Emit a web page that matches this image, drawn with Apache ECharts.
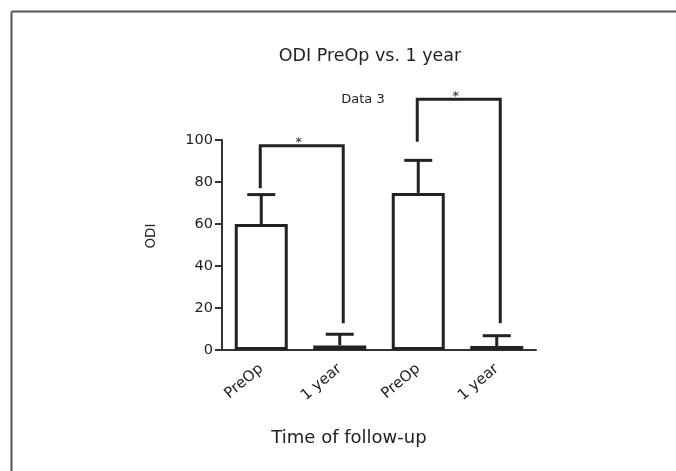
<!DOCTYPE html>
<html>
<head>
<meta charset="utf-8">
<script src="https://cdn.jsdelivr.net/npm/echarts@6/dist/echarts.min.js"></script>
<style>
html,body{margin:0;padding:0;background:#fff;}
#chart{width:676px;height:471px;}
</style>
</head>
<body>
<div id="chart"></div>
<script>
// ---- data ----
const categories = ['PreOp', '1 year', 'PreOp', '1 year'];
const means = [60, 2.2, 74.8, 1.9];
const sdUpper = [14, 5.3, 15.5, 4.9];
// bracket: [fromCategory, toCategory, leftLegBottom, barTop, rightLegBottom]
const bracket1 = [0, 1, 77, 97.3, 12.7];
const bracket2 = [2, 3, 99.2, 119.4, 12.7];
const sigLabels = ['*', '*'];
const yTicks = [0, 20, 40, 60, 80, 100];
const titleText = 'ODI PreOp vs. 1 year';
const dataSetLabel = 'Data 3';
const xName = 'Time of follow-up';
const yName = 'ODI';

const FONT = 'DejaVu Sans';
const INK = '#222';

const errorData = means.map((m, i) => [i, m, m + sdUpper[i]]);
const bracketData = [bracket1.concat([0]), bracket2.concat([1])];

const chart = echarts.init(document.getElementById('chart'), null, {renderer: 'canvas'});

chart.setOption({
  backgroundColor: '#fff',
  animation: false,
  title: {
    text: titleText,
    left: 365, textAlign: 'center',
    top: 42,
    textStyle: {fontFamily: FONT, fontSize: 17.5, fontWeight: 'normal', color: INK}
  },
  grid: {left: 222, right: 140, top: 140, bottom: 121, containLabel: false},
  xAxis: {
    type: 'category',
    data: categories,
    boundaryGap: true,
    name: xName,
    nameLocation: 'middle',
    nameGap: 79,
    nameTextStyle: {fontFamily: FONT, fontSize: 18, color: INK, padding: [0, 60, 0, 0]},
    axisLine: {lineStyle: {color: '#333', width: 2}},
    axisTick: {alignWithLabel: true, length: 6, lineStyle: {color: '#333', width: 2}},
    axisLabel: {rotate: 40, fontFamily: FONT, fontSize: 15, color: INK, margin: 17, padding: [22, 0, 0, 0]},
    splitLine: {show: false}
  },
  yAxis: {
    type: 'value',
    min: yTicks[0], max: yTicks[yTicks.length - 1], interval: 20,
    name: yName,
    nameLocation: 'middle',
    nameGap: 64,
    nameTextStyle: {fontFamily: FONT, fontSize: 13.5, color: INK, padding: [0, 0, 0, 18]},
    axisLine: {show: true, lineStyle: {color: '#333', width: 2}},
    axisTick: {show: true, length: 7, lineStyle: {color: '#333', width: 2}},
    axisLabel: {fontFamily: FONT, fontSize: 14.5, color: INK, margin: 9},
    splitLine: {show: false}
  },
  series: [
    {
      type: 'bar',
      data: means,
      barWidth: 53,
      itemStyle: {color: '#fff', borderColor: INK, borderWidth: 3},
      z: 2
    },
    {
      type: 'custom',
      data: errorData,
      encode: {x: 0, y: [1, 2]},
      z: 3,
      clip: false,
      renderItem: function (params, api) {
        const c = api.coord([api.value(0), api.value(1)]);
        const t = api.coord([api.value(0), api.value(2)]);
        const half = 14;
        return {
          type: 'group',
          children: [
            {type: 'line', shape: {x1: c[0], y1: c[1], x2: t[0], y2: t[1]}, style: {stroke: INK, lineWidth: 3}},
            {type: 'line', shape: {x1: t[0] - half, y1: t[1], x2: t[0] + half, y2: t[1]}, style: {stroke: INK, lineWidth: 3}}
          ]
        };
      }
    },
    {
      type: 'custom',
      data: bracketData,
      encode: {x: [0, 1], y: [2, 3, 4]},
      z: 4,
      clip: false,
      renderItem: function (params, api) {
        const xl = api.coord([api.value(0), 0])[0] - 1;
        const xr = api.coord([api.value(1), 0])[0] + 3.5;
        const yl = api.coord([0, api.value(2)])[1];
        const yt = api.coord([0, api.value(3)])[1];
        const yr = api.coord([0, api.value(4)])[1];
        const label = sigLabels[api.value(5)];
        return {
          type: 'group',
          children: [
            {type: 'polyline', shape: {points: [[xl, yl], [xl, yt], [xr, yt], [xr, yr]]},
             style: {stroke: INK, lineWidth: 3, fill: null, lineJoin: 'miter'}},
            {type: 'text', x: (xl + xr) / 2 - 3, y: yt - 3,
             style: {text: label, fontFamily: FONT, fontSize: 13, fill: INK, align: 'center', verticalAlign: 'middle'}}
          ]
        };
      }
    }
  ],
  graphic: [
    {type: 'text', x: 363, y: 100,
     style: {text: dataSetLabel, fontFamily: FONT, fontSize: 13, fill: INK, align: 'center', verticalAlign: 'middle'}},
    {type: 'line', shape: {x1: 11.5, y1: 11.5, x2: 676, y2: 11.5}, style: {stroke: '#555', lineWidth: 2}},
    {type: 'line', shape: {x1: 11.5, y1: 11.5, x2: 11.5, y2: 471}, style: {stroke: '#555', lineWidth: 2}}
  ]
});
</script>
</body>
</html>
